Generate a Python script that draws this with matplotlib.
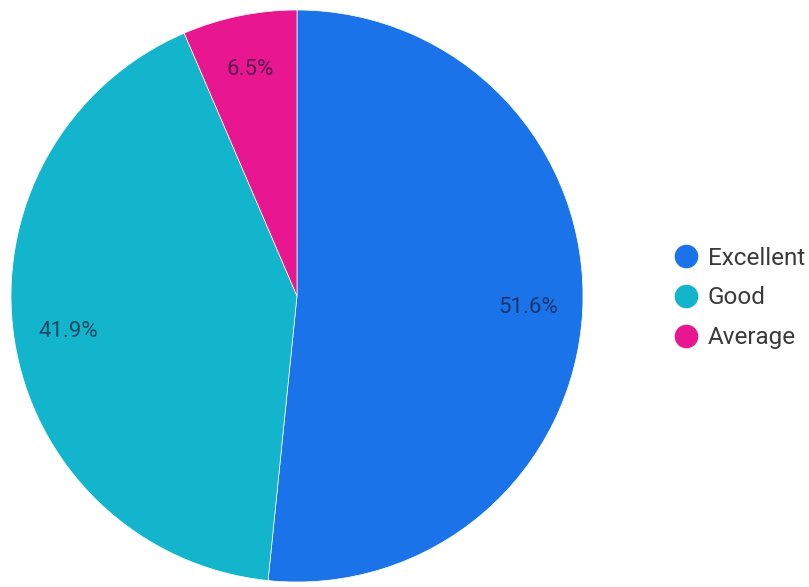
import matplotlib
matplotlib.use("Agg")
import matplotlib.pyplot as plt
from matplotlib.lines import Line2D

plt.rcParams['font.family'] = ['Roboto', 'DejaVu Sans']

categories = ["Excellent", "Good", "Average"]
counts = [16, 13, 2]
colors = ["#1a73e8", "#12b5cb", "#e8168f"]

fig = plt.figure(figsize=(8.09, 5.87), dpi=100)
cx, cy, r = 297, 291, 286
W, H = 809, 587
ax = fig.add_axes([(cx - r) / W, (cy - r) / H, 2 * r / W, 2 * r / H])

wedges, texts, autotexts = ax.pie(
    counts, colors=colors, startangle=90, counterclock=False,
    autopct='%1.1f%%', pctdistance=0.81, radius=1.0,
    wedgeprops=dict(linewidth=0.5, edgecolor='white'),
    textprops=dict(fontsize=16, color='#1c1c3a', alpha=0.7),
)
ax.set_xlim(-1, 1)
ax.set_ylim(-1, 1)
ax.set_aspect('equal')
ax.axis('off')

handles = [Line2D([0], [0], marker='o', linestyle='', markersize=16,
                  markerfacecolor=c, markeredgecolor=c) for c in colors]
fig.legend(handles, categories, loc='center left',
           bbox_to_anchor=(652 / W, 1 - 298 / H), frameon=False,
           fontsize=17.5, handletextpad=0.4, labelspacing=0.68,
           handlelength=1.0, labelcolor='#3a3a3a')

fig.savefig('out.png', dpi=100)
